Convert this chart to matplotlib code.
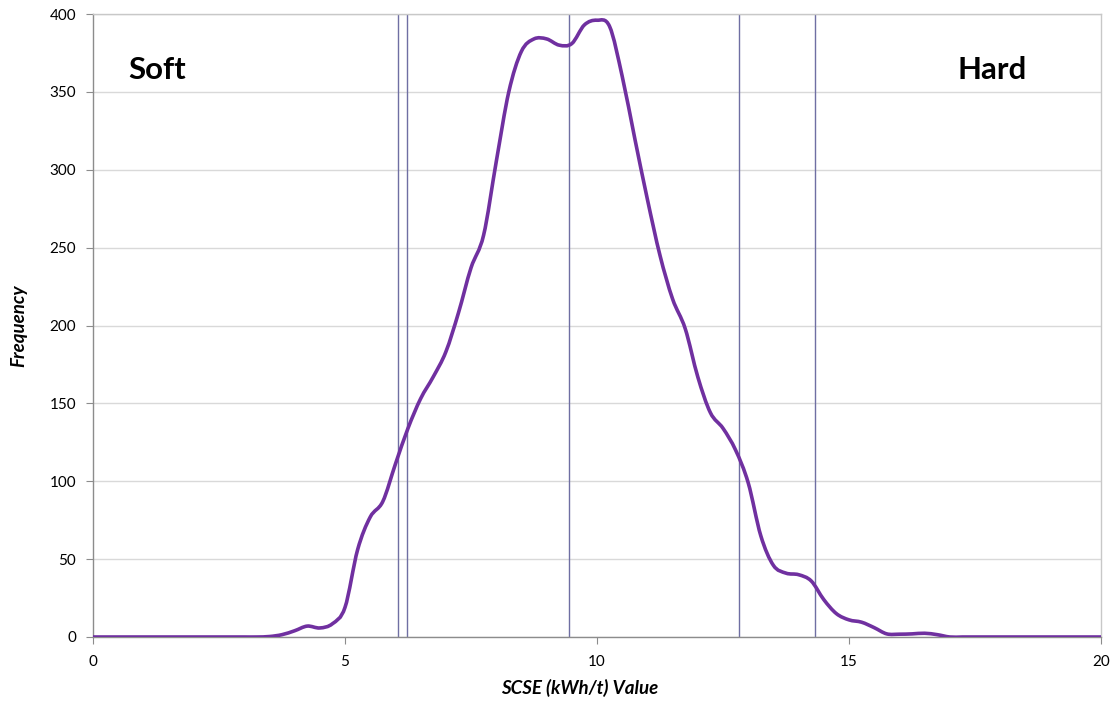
import numpy as np
import matplotlib
matplotlib.use("Agg")
import matplotlib.pyplot as plt
from matplotlib.path import Path
from matplotlib.patches import PathPatch

# ---- data ----
scse_x = [0.0, 0.25, 0.5, 0.75, 1.0, 1.25, 1.5, 1.75, 2.0, 2.25, 2.5, 2.75, 3.0, 3.25,
          3.5, 3.75, 4.0, 4.25, 4.5, 4.75, 5.0, 5.25, 5.5, 5.75, 6.0, 6.25, 6.5, 6.75,
          7.0, 7.25, 7.5, 7.75, 8.0, 8.25, 8.5, 8.75, 9.0, 9.25, 9.5, 9.75, 10.0, 10.25,
          10.5, 10.75, 11.0, 11.25, 11.5, 11.75, 12.0, 12.25, 12.5, 12.75, 13.0, 13.25,
          13.5, 13.75, 14.0, 14.25, 14.5, 14.75, 15.0, 15.25, 15.5, 15.75, 16.0, 16.25,
          16.5, 16.75, 17.0, 17.25, 17.5, 17.75, 18.0, 18.25, 18.5, 18.75, 19.0, 19.25,
          19.5, 19.75, 20.0]
frequency = [0, 0, 0, 0, 0, 0, 0, 0, 0, 0, 0, 0, 0, 0,
             0.3, 1.5, 4, 7, 5.8, 8.5, 19, 56, 77, 87, 111, 134, 153, 167,
             183, 208, 237, 258, 305, 350, 376, 384, 384, 380, 381, 393, 396, 392,
             360, 320, 281, 245, 217, 198, 167, 144, 134, 120, 99, 65,
             46, 41, 40, 36, 24, 15, 11, 9.5, 6, 2, 1.8, 2,
             2.4, 1.5, 0, 0, 0, 0, 0, 0, 0, 0, 0, 0,
             0, 0, 0]
boundaries = [6.06, 6.24, 9.45, 12.81, 14.32]
x_ticks = [0, 5, 10, 15, 20]
y_ticks = [0, 50, 100, 150, 200, 250, 300, 350, 400]
labels = ["Soft", "Hard"]
label_pos_x = [1.27, 17.83]
label_pos_y = [364, 364]

plt.rcParams['font.family'] = ['Lato', 'DejaVu Sans']

fig = plt.figure(figsize=(11.15, 7.01), dpi=100)
ax = fig.add_axes([93 / 1115, 64 / 701, 1008 / 1115, 623 / 701])

ax.set_xlim(0, 20)
ax.set_ylim(0, 400)
ax.set_xticks(x_ticks)
ax.set_yticks(y_ticks)
ax.yaxis.grid(True, color='#d9d9d9', linewidth=1.0)
ax.set_axisbelow(True)

for b in boundaries:
    ax.axvline(b, color='#6f6fa3', linewidth=1.0, zorder=2)

# smoothed line (Catmull-Rom as cubic Bezier segments)
P = np.column_stack([scse_x, frequency]).astype(float)
n = len(P)
verts = [tuple(P[0])]
codes = [Path.MOVETO]
for i in range(n - 1):
    p0 = P[i - 1] if i > 0 else P[i]
    p1 = P[i]
    p2 = P[i + 1]
    p3 = P[i + 2] if i + 2 < n else P[i + 1]
    c1 = p1 + (p2 - p0) / 6.0
    c2 = p2 - (p3 - p1) / 6.0
    verts += [tuple(c1), tuple(c2), tuple(p2)]
    codes += [Path.CURVE4, Path.CURVE4, Path.CURVE4]
patch = PathPatch(Path(verts, codes), facecolor='none', edgecolor='#7030A0',
                  linewidth=2.6, zorder=3, capstyle='round', joinstyle='round')
ax.add_patch(patch)

for t, lx, ly in zip(labels, label_pos_x, label_pos_y):
    ax.text(lx, ly, t, fontsize=22.5, fontweight='bold', ha='center', va='center', color='black')

for side in ['top', 'right']:
    ax.spines[side].set_color('#c8c8c8')
for side in ['left', 'bottom']:
    ax.spines[side].set_color('#8c8c8c')
for s in ax.spines.values():
    s.set_linewidth(1.0)

ax.tick_params(axis='both', direction='out', length=5, color='#8c8c8c', labelsize=11,
               labelcolor='black')
ax.tick_params(axis='y', pad=7)
ax.tick_params(axis='x', pad=8)

ax.set_xlabel('SCSE (kWh/t) Value', fontsize=13.5, fontweight='bold', fontstyle='italic')
ax.set_ylabel('Frequency', fontsize=13.5, fontweight='bold', fontstyle='italic')
ax.xaxis.set_label_coords(0.483, -0.068)
ax.yaxis.set_label_coords(-0.074, 0.5)
ax.yaxis.label.set_va('center')

fig.savefig('out.png', dpi=100, facecolor='white')
